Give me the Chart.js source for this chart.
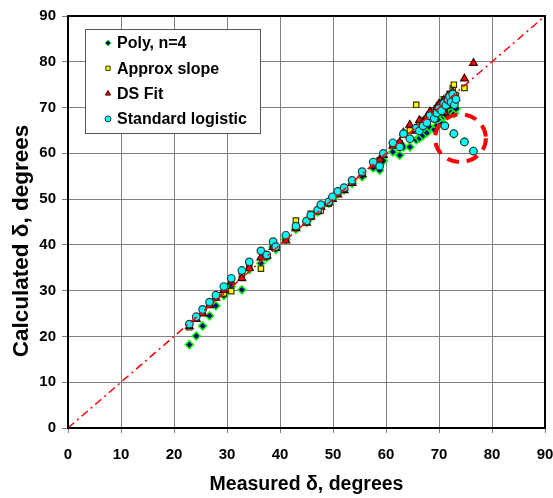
<!DOCTYPE html>
<html>
<head>
<meta charset="utf-8">
<script src="https://cdn.jsdelivr.net/npm/chart.js@4.4.0/dist/chart.umd.min.js"></script>
<style>
  html, body { margin: 0; padding: 0; background: #fff; }
  #wrap { width: 553px; height: 498px; }
</style>
</head>
<body>
<div id="wrap"><canvas id="deltaChart" width="553" height="498"></canvas></div>
<script>
// measured delta (deg), shared by all four methods
const measured = [
    22.9, 24.2, 25.4, 26.7, 27.9, 29.4, 30.8, 32.8, 34.2, 36.4,
    37.5, 38.7, 39.2, 41.1, 43.0, 45.0, 45.8, 47.1, 47.7, 49.2,
    49.9, 50.9, 52.1, 53.6, 55.5, 57.6, 58.8, 59.5, 61.3, 62.6,
    63.3, 64.5, 65.7, 66.3, 67.0, 67.7, 68.3, 69.1, 69.6, 70.0,
    70.5, 70.9, 71.3, 71.7, 72.0, 72.3, 72.6, 72.9, 73.2, 71.1,
    72.8, 74.8, 76.5
];
const polyN4 = [
    18.2, 20.1, 22.3, 24.5, 26.7, 28.9, 30.9, 30.2, 34.6, 36.0,
    37.2, 39.6, 39.0, 41.2, 43.4, 44.9, 46.0, 47.2, 48.1, 49.1,
    50.1, 51.2, 52.0, 53.4, 54.9, 56.8, 56.3, 58.4, 60.3, 59.6,
    61.4, 61.4, 62.9, 63.3, 63.9, 64.5, 65.6, 65.2, 66.1, 67.2,
    66.4, 68.0, 68.3, 69.2, 70.0, 69.0, 70.8, 68.7, 69.7, 66.2,
    64.2, 62.5, 60.5
];
const approxSlope = [
    22.0, 24.0, 25.3, 27.0, 28.6, 29.4, 29.9, 33.5, 35.0, 34.8,
    37.5, 39.8, 39.4, 41.5, 45.3, 45.1, 46.8, 47.4, 47.5, 49.0,
    50.3, 51.4, 52.3, 53.8, 55.7, 57.9, 58.5, 59.8, 61.9, 62.2,
    64.1, 65.0, 70.6, 66.5, 67.3, 67.6, 68.5, 69.4, 69.9, 70.5,
    71.0, 71.8, 71.2, 72.3, 73.0, 71.7, 74.2, 72.8, 72.6, 69.0,
    75.0, 74.3, null
];
const dsFit = [
    22.2, 23.8, 25.0, 26.8, 28.4, 30.1, 31.9, 32.7, 34.9, 37.2,
    37.6, 39.5, 39.3, 40.9, 43.6, 44.8, 46.1, 47.3, 48.3, 49.2,
    50.0, 51.0, 51.9, 53.5, 55.4, 57.3, 58.6, 59.6, 61.6, 62.5,
    64.5, 66.2, 64.9, 67.2, 66.8, 68.0, 69.1, 68.6, 70.1, 70.8,
    69.9, 71.6, 70.8, 72.5, 72.0, 71.4, 73.4, 70.4, 72.1, 68.9,
    71.5, 76.3, 79.7
];
const stdLogistic = [
    22.7, 24.3, 25.9, 27.5, 29.0, 30.9, 32.7, 34.4, 36.3, 38.7,
    37.8, 40.7, 39.6, 42.1, 44.1, 45.2, 46.5, 47.6, 48.8, 49.4,
    50.5, 51.7, 52.5, 54.1, 56.0, 58.1, 57.2, 60.0, 62.3, 61.4,
    64.3, 63.2, 65.5, 64.9, 66.0, 66.7, 68.2, 67.6, 68.8, 69.8,
    69.3, 70.9, 70.5, 71.6, 72.4, 71.2, 72.9, 70.6, 71.8, 66.0,
    64.3, 62.5, 60.5
];
const seriesNames = ["Poly, n=4", "Approx slope", "DS Fit", "Standard logistic"];
const axisTicks = [0, 10, 20, 30, 40, 50, 60, 70, 80, 90];
const identityLine = [0, 90];
// circled outliers: centre (measured, calculated) and half-widths in degrees
const ringCenter = [74.05, 63.3];
const ringRadius = [4.8, 5.2];

const FONT = '"Liberation Sans", Arial, sans-serif';

function pairs(ys) {
    return measured.map((x, i) => ({ x: x, y: ys[i] }));
}

// frame, legend box, y title and the dashed ring
const extras = {
    id: "extras",
    afterDatasetsDraw(chart) {
        const ctx = chart.ctx;
        const a = chart.chartArea;
        const xs = chart.scales.x;
        const ys = chart.scales.y;
        ctx.save();

        // dashed ring round the outliers
        const cx = xs.getPixelForValue(ringCenter[0]);
        const cy = ys.getPixelForValue(ringCenter[1]);
        const rx = xs.getPixelForValue(ringCenter[0] + ringRadius[0]) - cx;
        const ry = cy - ys.getPixelForValue(ringCenter[1] + ringRadius[1]);
        ctx.beginPath();
        ctx.ellipse(cx, cy, rx, ry, 0, 0, Math.PI * 2);
        ctx.strokeStyle = "#ff0000";
        ctx.lineWidth = 4;
        ctx.setLineDash([12, 8]);
        ctx.stroke();
        ctx.setLineDash([]);

        // plot frame
        ctx.strokeStyle = "#000";
        ctx.lineWidth = 2;
        ctx.strokeRect(a.left, a.top, a.right - a.left, a.bottom - a.top);

        // y axis title (sits a little below the axis middle in the original)
        ctx.save();
        ctx.translate(22, (a.top + a.bottom) / 2 + 19);
        ctx.rotate(-Math.PI / 2);
        ctx.font = "bold 22.5px " + FONT;
        ctx.fillStyle = "#000";
        ctx.textAlign = "center";
        ctx.textBaseline = "middle";
        ctx.fillText("Calculated δ, degrees", 0, 0);
        ctx.restore();

        // legend
        const x0 = a.left + 17, y0 = a.top + 13, w = 175, h = 104;
        ctx.fillStyle = "#fff";
        ctx.fillRect(x0, y0, w, h);
        ctx.strokeStyle = "#555";
        ctx.lineWidth = 1;
        ctx.strokeRect(x0 + 0.5, y0 + 0.5, w, h);
        ctx.font = "bold 16px " + FONT;
        ctx.textBaseline = "middle";
        ctx.textAlign = "left";
        seriesNames.forEach((name, i) => {
            const ds = chart.data.datasets[i];
            const y = y0 + 14 + i * 25.3;
            ctx.fillStyle = ds.backgroundColor;
            ctx.strokeStyle = ds.borderColor;
            ctx.lineWidth = 1;
            Chart.helpers.drawPoint(ctx, { pointStyle: ds.pointStyle, radius: 3, borderWidth: 1, rotation: 0 }, x0 + 23, y);
            ctx.fillStyle = "#000";
            ctx.fillText(name, x0 + 32, y + 1);
        });
        ctx.restore();
    },
};

const ctx = document.getElementById("deltaChart").getContext("2d");
new Chart(ctx, {
    type: "scatter",
    data: {
        datasets: [
            {
                label: seriesNames[0],
                data: pairs(polyN4),
                pointStyle: "rectRot",
                pointRadius: 4,
                backgroundColor: "#000080",
                borderColor: "#00ff00",
                borderWidth: 1.5,
                order: 4,
            },
            {
                label: seriesNames[1],
                data: pairs(approxSlope),
                pointStyle: "rect",
                pointRadius: 3.8,
                backgroundColor: "#ffff00",
                borderColor: "#333300",
                borderWidth: 1.2,
                order: 3,
            },
            {
                label: seriesNames[2],
                data: pairs(dsFit),
                pointStyle: "triangle",
                pointRadius: 4.5,
                backgroundColor: "#ff0000",
                borderColor: "#330000",
                borderWidth: 1.2,
                order: 2,
            },
            {
                label: seriesNames[3],
                data: pairs(stdLogistic),
                pointStyle: "circle",
                pointRadius: 3.8,
                backgroundColor: "#00ffff",
                borderColor: "#333333",
                borderWidth: 1.2,
                order: 1,
            },
            {
                label: "1:1",
                data: identityLine.map((v) => ({ x: v, y: v })),
                showLine: true,
                pointRadius: 0,
                borderColor: "#ff0000",
                borderWidth: 1.5,
                borderDash: [8, 4, 2, 4],
                order: 0,
            },
        ],
    },
    options: {
        responsive: false,
        animation: false,
        layout: { padding: { left: 0, right: 8, top: 16, bottom: 0 } },
        plugins: {
            legend: { display: false },
            tooltip: { enabled: false },
        },
        scales: {
            x: {
                type: "linear",
                min: 0,
                max: 90,
                afterBuildTicks: (s) => { s.ticks = axisTicks.map((v) => ({ value: v })); },
                afterFit: (s) => {
                    s.height = 70;
                    s.paddingLeft = 0;
                    s.paddingRight = 0;
                },
                border: { display: false },
                grid: { color: "#808080", lineWidth: 1, tickLength: 5, tickColor: "#808080" },
                ticks: { color: "#000", font: { family: FONT, size: 15, weight: "bold" }, padding: 13, maxRotation: 0 },
                title: {
                    display: true,
                    text: "Measured δ, degrees",
                    color: "#000",
                    font: { family: FONT, size: 19.5, weight: "bold" },
                    padding: { top: 0, bottom: 2 },
                },
            },
            y: {
                type: "linear",
                min: 0,
                max: 90,
                afterBuildTicks: (s) => { s.ticks = axisTicks.map((v) => ({ value: v })); },
                afterFit: (s) => { s.width = 68; },
                border: { display: false },
                grid: { color: "#808080", lineWidth: 1, tickLength: 6, tickColor: "#808080" },
                ticks: { color: "#000", font: { family: FONT, size: 15, weight: "bold" }, padding: 6 },
                title: { display: false },
            },
        },
    },
    plugins: [extras],
});
</script>
</body>
</html>
